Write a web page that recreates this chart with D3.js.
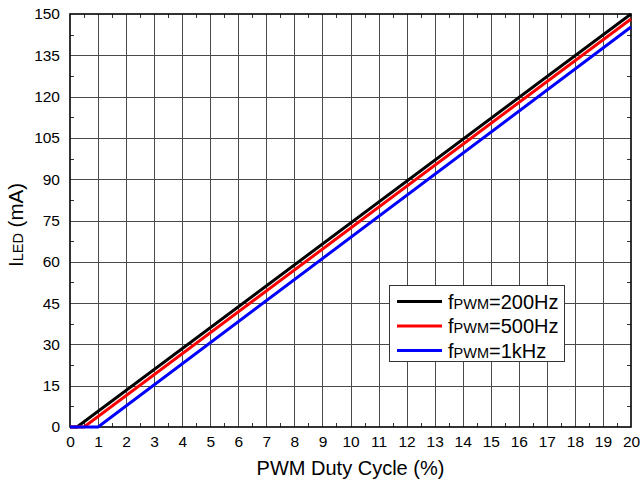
<!DOCTYPE html>
<html>
<head>
<meta charset="utf-8">
<script src="https://cdn.jsdelivr.net/npm/d3@7"></script>
<style>
  html, body { margin: 0; padding: 0; background: #fff; }
  svg { display: block; font-family: "Liberation Sans", Arial, sans-serif; }
</style>
</head>
<body>
<svg id="chart" width="642" height="483"></svg>
<script>
// LED current vs PWM duty cycle for three PWM frequencies
const xTicks = d3.range(0, 21, 1);
const yTicks = d3.range(0, 151, 15);
const series = ["200Hz", "500Hz", "1kHz"];
const colors = ["#000000", "#ff0000", "#0000ff"];
const duty200 = [0, 0.25, 20];
const iled200 = [0, 0, 150];
const duty500 = [0, 0.5, 20];
const iled500 = [0, 0, 148.2];
const duty1k = [0, 1.0, 20];
const iled1k = [0, 0, 145.3];

const data = [
  duty200.map((d, i) => [d, iled200[i]]),
  duty500.map((d, i) => [d, iled500[i]]),
  duty1k.map((d, i) => [d, iled1k[i]])
];

const svg = d3.select("#chart");
const m = { left: 70, right: 631, top: 14, bottom: 427 };
const x = d3.scaleLinear().domain([0, 20]).range([m.left, m.right]);
const y = d3.scaleLinear().domain([0, 150]).range([m.bottom, m.top]);

// grid
const grid = svg.append("g").attr("stroke", "#4a4a4a").attr("stroke-width", 1);
grid.selectAll("line.vx").data(xTicks.slice(1, -1)).join("line")
  .attr("x1", d => Math.round(x(d)) + 0.5).attr("x2", d => Math.round(x(d)) + 0.5)
  .attr("y1", m.top).attr("y2", m.bottom);
grid.selectAll("line.hy").data(yTicks.slice(1, -1)).join("line")
  .attr("y1", d => Math.round(y(d)) + 0.5).attr("y2", d => Math.round(y(d)) + 0.5)
  .attr("x1", m.left).attr("x2", m.right);

// minor ticks on the frame, pointing inward
const minorX = d3.range(0.5, 20, 1);
const minorY = d3.range(7.5, 150, 15);
const mt = svg.append("g").attr("stroke", "#333").attr("stroke-width", 1);
minorX.forEach(v => {
  const px = Math.round(x(v)) + 0.5;
  mt.append("line").attr("x1", px).attr("x2", px).attr("y1", m.bottom).attr("y2", m.bottom - 4);
  mt.append("line").attr("x1", px).attr("x2", px).attr("y1", m.top).attr("y2", m.top + 4);
});
minorY.forEach(v => {
  const py = Math.round(y(v)) + 0.5;
  mt.append("line").attr("y1", py).attr("y2", py).attr("x1", m.left).attr("x2", m.left + 4);
  mt.append("line").attr("y1", py).attr("y2", py).attr("x1", m.right).attr("x2", m.right - 4);
});

// axes with labels
const xAxis = d3.axisBottom(x).tickValues(xTicks).tickSize(0).tickPadding(9).tickFormat(d3.format("d"));
const yAxis = d3.axisLeft(y).tickValues(yTicks).tickSize(0).tickPadding(10).tickFormat(d3.format("d"));
const gx = svg.append("g").attr("transform", `translate(0,${m.bottom})`).call(xAxis);
const gy = svg.append("g").attr("transform", `translate(${m.left},0)`).call(yAxis);
[gx, gy].forEach(g => {
  g.select(".domain").remove();
  g.selectAll("text").attr("font-size", 15.5).attr("fill", "#000")
    .attr("font-family", "Liberation Sans, Arial, sans-serif");
});

// frame
svg.append("rect").attr("x", m.left).attr("y", m.top)
  .attr("width", m.right - m.left).attr("height", m.bottom - m.top)
  .attr("fill", "none").attr("stroke", "#000").attr("stroke-width", 1.6);

// data lines, clipped to the plot frame
svg.append("clipPath").attr("id", "plotclip").append("rect")
  .attr("x", m.left).attr("y", m.top - 1)
  .attr("width", m.right - m.left + 1).attr("height", m.bottom - m.top + 3);
const line = d3.line().x(d => x(d[0])).y(d => y(d[1]));
svg.append("g").attr("clip-path", "url(#plotclip)")
  .selectAll("path").data(data).join("path")
  .attr("d", line).attr("fill", "none")
  .attr("stroke", (d, i) => colors[i]).attr("stroke-width", 3);

// axis titles
svg.append("text").attr("x", (m.left + m.right) / 2).attr("y", 475)
  .attr("text-anchor", "middle").attr("font-size", 20).text("PWM Duty Cycle (%)");
const yt = svg.append("text").attr("transform", "translate(23,225) rotate(-90)")
  .attr("text-anchor", "middle").attr("font-size", 20.5);
yt.append("tspan").text("I");
yt.append("tspan").attr("font-size", 14.5).text("LED");
yt.append("tspan").text(" (mA)");

// legend
const lg = svg.append("g");
lg.append("rect").attr("x", 389.5).attr("y", 285.5).attr("width", 175).attr("height", 76)
  .attr("fill", "#fff").attr("stroke", "#333").attr("stroke-width", 1);
series.forEach((s, i) => {
  const ry = 301.5 + i * 24.5;
  lg.append("line").attr("x1", 397).attr("x2", 442).attr("y1", ry).attr("y2", ry)
    .attr("stroke", colors[i]).attr("stroke-width", 3);
  const t = lg.append("text").attr("x", 448).attr("y", ry + 7).attr("font-size", 20);
  t.append("tspan").text("f");
  t.append("tspan").attr("font-size", 14.5).text("PWM");
  t.append("tspan").text("=" + s);
});
</script>
</body>
</html>
